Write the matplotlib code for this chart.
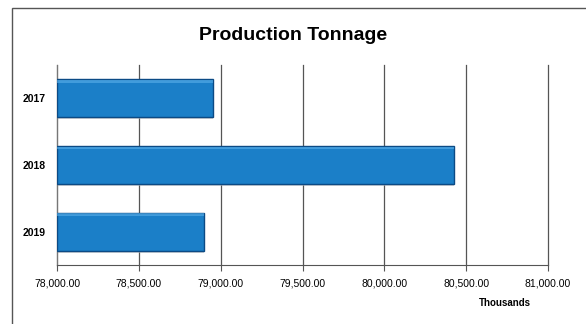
import matplotlib.pyplot as plt
from matplotlib.patches import Rectangle
from matplotlib.ticker import FuncFormatter

years = ['2017', '2018', '2019']
tonnage = [78951, 80427, 78898]  # thousands
x_ticks = [78000, 78500, 79000, 79500, 80000, 80500, 81000]

plt.rcParams['font.family'] = ['Liberation Sans Narrow', 'Liberation Sans', 'DejaVu Sans']

fig = plt.figure(figsize=(5.86, 3.24), dpi=100)
ax = fig.add_axes([0.0973, 0.182, 0.838, 0.617])

# frame around the chart area
fig.patches.append(Rectangle((12 / 586, -0.05), 1.0, 1 - 8 / 324 + 0.05,
                             transform=fig.transFigure, fill=False,
                             edgecolor='#555555', linewidth=1.0))

pos = list(range(len(years)))
base = x_ticks[0]
widths = [v - base for v in tonnage]

# soft drop shadow under each bar
ax.barh([p + 0.03 for p in pos], widths, left=base, height=0.57,
        color='#bbbbbb', alpha=0.6, zorder=2)
ax.barh(pos, widths, left=base, height=0.57, color='#1b7fc8',
        edgecolor='#0b4a85', linewidth=1.0, zorder=3)
# lighter strip along the top edge
ax.barh([p - 0.255 for p in pos], widths, left=base, height=0.04,
        color='#5bb0ea', alpha=0.6, linewidth=0, zorder=4)

ax.set_xlim(x_ticks[0], x_ticks[-1])
ax.set_ylim(2.5, -0.5)
ax.set_xticks(x_ticks)
ax.xaxis.set_major_formatter(FuncFormatter(lambda v, _: f'{v:,.2f}'))
ax.set_yticks(pos)
ax.set_yticklabels(years, fontweight='bold')
ax.tick_params(axis='x', labelsize=7.5, length=4, color='#555555', pad=6)
ax.tick_params(axis='y', labelsize=7.5, length=0, pad=8)

ax.grid(axis='x', color='#555555', linewidth=0.9, zorder=1)
for gl in ax.get_xgridlines():
    gl.set_clip_on(False)
ax.set_axisbelow(True)
for side in ['top', 'right']:
    ax.spines[side].set_visible(False)
ax.spines['left'].set_color('#777777')
ax.spines['bottom'].set_color('#555555')

fig.text(0.5, 0.89, 'Production Tonnage', ha='center', va='center',
         fontsize=14, fontweight='bold')
fig.text(0.862, 0.065, 'Thousands', ha='center', va='center',
         fontsize=7, fontweight='bold')

fig.savefig('out.png', dpi=100)
